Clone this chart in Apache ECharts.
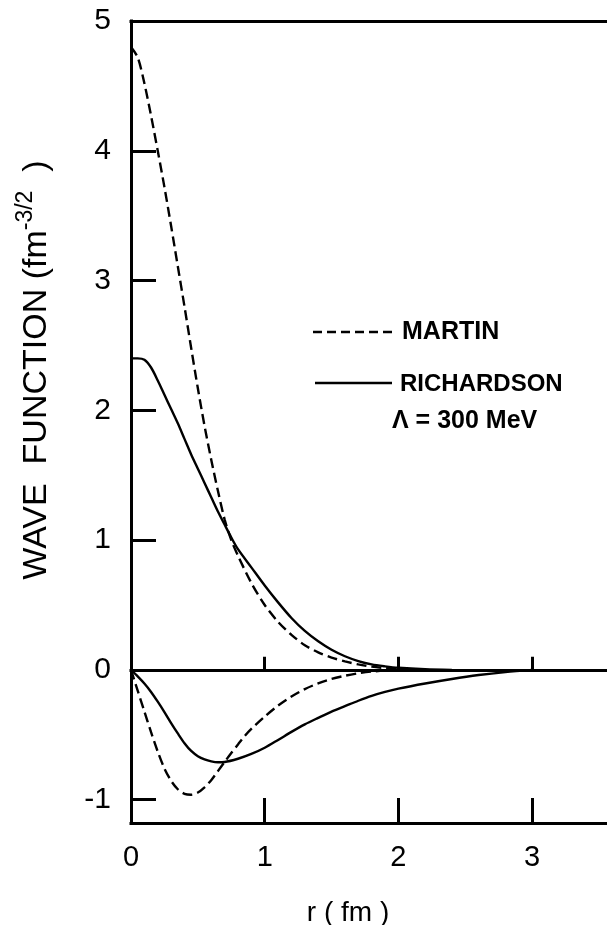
<!DOCTYPE html>
<html>
<head>
<meta charset="utf-8">
<title>Wave function</title>
<script src="https://cdn.jsdelivr.net/npm/echarts@6/dist/echarts.min.js"></script>
<style>
  html, body { margin: 0; padding: 0; background: #fff; }
  #chart { width: 607px; height: 925px; }
</style>
</head>
<body>
<div id="chart"></div>
<script>
// tick values
const xTicks = [0, 1, 2, 3]
const yTicks = [-1, 0, 1, 2, 3, 4, 5]

// MARTIN (dashed)
const martinUpperR = [0, 0.05, 0.1, 0.15, 0.2, 0.25, 0.3, 0.35, 0.4, 0.45, 0.5, 0.55, 0.6, 0.65, 0.7, 0.75, 0.8, 0.9, 1.0, 1.1, 1.2, 1.3, 1.4, 1.5, 1.6, 1.7, 1.8, 1.9, 2.0, 2.2]
const martinUpper = [4.8, 4.72, 4.52, 4.27, 4.0, 3.72, 3.42, 3.11, 2.8, 2.48, 2.17, 1.88, 1.62, 1.38, 1.16, 1.0, 0.88, 0.67, 0.5, 0.37, 0.27, 0.19, 0.135, 0.095, 0.065, 0.042, 0.025, 0.013, 0.005, 0]
const martinLowerR = [0, 0.05, 0.1, 0.15, 0.2, 0.25, 0.3, 0.35, 0.4, 0.45, 0.5, 0.55, 0.6, 0.65, 0.7, 0.75, 0.8, 0.85, 0.9, 1.0, 1.1, 1.2, 1.3, 1.4, 1.5, 1.6, 1.7, 1.8, 1.9, 2.0]
const martinLower = [0, -0.16, -0.32, -0.48, -0.63, -0.76, -0.855, -0.92, -0.955, -0.962, -0.945, -0.905, -0.85, -0.78, -0.71, -0.64, -0.575, -0.51, -0.455, -0.36, -0.275, -0.205, -0.148, -0.104, -0.07, -0.045, -0.026, -0.013, -0.005, 0]

// RICHARDSON (solid)
const richUpperR = [0, 0.05, 0.1, 0.15, 0.2, 0.25, 0.3, 0.35, 0.4, 0.45, 0.5, 0.55, 0.6, 0.65, 0.7, 0.75, 0.8, 0.9, 1.0, 1.1, 1.2, 1.3, 1.4, 1.5, 1.6, 1.7, 1.8, 1.9, 2.0, 2.2, 2.4]
const richUpper = [2.4, 2.4, 2.39, 2.33, 2.23, 2.12, 2.01, 1.9, 1.78, 1.66, 1.55, 1.44, 1.33, 1.22, 1.12, 1.02, 0.93, 0.79, 0.65, 0.52, 0.4, 0.3, 0.22, 0.155, 0.105, 0.068, 0.042, 0.027, 0.016, 0.005, 0]
const richLowerR = [0, 0.05, 0.1, 0.15, 0.2, 0.25, 0.3, 0.35, 0.4, 0.45, 0.5, 0.55, 0.6, 0.65, 0.7, 0.8, 0.9, 1.0, 1.1, 1.2, 1.3, 1.4, 1.5, 1.6, 1.7, 1.8, 1.9, 2.0, 2.2, 2.4, 2.6, 2.8, 3.0]
const richLower = [0, -0.05, -0.105, -0.17, -0.245, -0.325, -0.41, -0.49, -0.565, -0.625, -0.665, -0.69, -0.705, -0.712, -0.71, -0.685, -0.648, -0.6, -0.54, -0.478, -0.42, -0.37, -0.322, -0.28, -0.238, -0.2, -0.17, -0.145, -0.105, -0.07, -0.04, -0.017, 0]

const zip = (xs, ys) => xs.map((x, i) => [x, ys[i]])

const font = 'Liberation Sans, Arial, sans-serif'
const axisStyle = { color: '#000', width: 3, cap: 'square' }
const dashed = { color: '#000', width: 2.4, type: [10, 5] }
const solid = { color: '#000', width: 2.4 }

const option = {
  animation: false,
  backgroundColor: '#fff',
  grid: {
    left: 131,
    top: 21,
    right: 0,
    bottom: 102,
    containLabel: false
  },
  xAxis: [
    {
      // bottom frame with labels
      type: 'value',
      position: 'bottom',
      min: 0,
      max: 3.56,
      axisLine: { onZero: false, lineStyle: axisStyle },
      axisTick: { inside: true, length: 25, customValues: xTicks, lineStyle: { color: '#000', width: 3 } },
      axisLabel: { customValues: xTicks, color: '#000', fontSize: 29, fontFamily: font, margin: 20 },
      splitLine: { show: false }
    },
    {
      // zero line
      type: 'value',
      position: 'bottom',
      min: 0,
      max: 3.56,
      axisLine: { onZero: true, onZeroAxisIndex: 0, lineStyle: axisStyle },
      axisTick: { inside: true, length: 13, customValues: [1, 2, 3], lineStyle: { color: '#000', width: 3 } },
      axisLabel: { show: false },
      splitLine: { show: false }
    },
    {
      // top frame
      type: 'value',
      position: 'top',
      min: 0,
      max: 3.56,
      axisLine: { onZero: false, lineStyle: axisStyle },
      axisTick: { show: false },
      axisLabel: { show: false },
      splitLine: { show: false }
    }
  ],
  yAxis: {
    type: 'value',
    min: -1.18,
    max: 5,
    axisLine: { onZero: false, lineStyle: axisStyle },
    axisTick: { inside: true, length: 25, customValues: yTicks, lineStyle: { color: '#000', width: 3 } },
    axisLabel: { customValues: yTicks, color: '#000', fontSize: 30, fontFamily: font, margin: 20 },
    splitLine: { show: false }
  },
  series: [
    { name: 'MARTIN', type: 'line', data: zip(martinUpperR, martinUpper), showSymbol: false, smooth: 0.3, lineStyle: dashed },
    { name: 'MARTIN', type: 'line', data: zip(martinLowerR, martinLower), showSymbol: false, smooth: 0.3, lineStyle: dashed },
    { name: 'RICHARDSON', type: 'line', data: zip(richUpperR, richUpper), showSymbol: false, smooth: 0.3, lineStyle: solid },
    { name: 'RICHARDSON', type: 'line', data: zip(richLowerR, richLower), showSymbol: false, smooth: 0.3, lineStyle: solid }
  ],
  graphic: [
    {
      type: 'text',
      x: 37,
      y: 370,
      rotation: Math.PI / 2,
      style: {
        text: '{a|WAVE  FUNCTION (fm}{s|-3/2}{a|  )}',
        align: 'center',
        verticalAlign: 'middle',
        fill: '#000',
        rich: {
          a: { fontSize: 34, fontFamily: font, lineHeight: 46 },
          s: { fontSize: 23, fontFamily: font, verticalAlign: 'top', lineHeight: 22 }
        }
      }
    },
    {
      type: 'text',
      x: 348,
      y: 913,
      style: { text: 'r ( fm )', fontSize: 28, fontFamily: font, fill: '#000', align: 'center', verticalAlign: 'middle' }
    },
    // legend
    { type: 'line', shape: { x1: 313, y1: 332, x2: 395, y2: 332 }, style: { stroke: '#000', lineWidth: 2.4, lineDash: [9, 5] } },
    { type: 'text', x: 402, y: 332, style: { text: 'MARTIN', fontSize: 25, fontWeight: 'bold', fontFamily: font, fill: '#000', verticalAlign: 'middle' } },
    { type: 'line', shape: { x1: 315, y1: 383, x2: 392, y2: 383 }, style: { stroke: '#000', lineWidth: 2.4 } },
    { type: 'text', x: 400, y: 384, style: { text: 'RICHARDSON', fontSize: 24, fontWeight: 'bold', fontFamily: font, fill: '#000', verticalAlign: 'middle' } },
    { type: 'text', x: 392, y: 421, style: { text: 'Λ = 300 MeV', fontSize: 25, fontWeight: 'bold', fontFamily: font, fill: '#000', verticalAlign: 'middle' } }
  ]
}

const chart = echarts.init(document.getElementById('chart'))
chart.setOption(option)
</script>
</body>
</html>
